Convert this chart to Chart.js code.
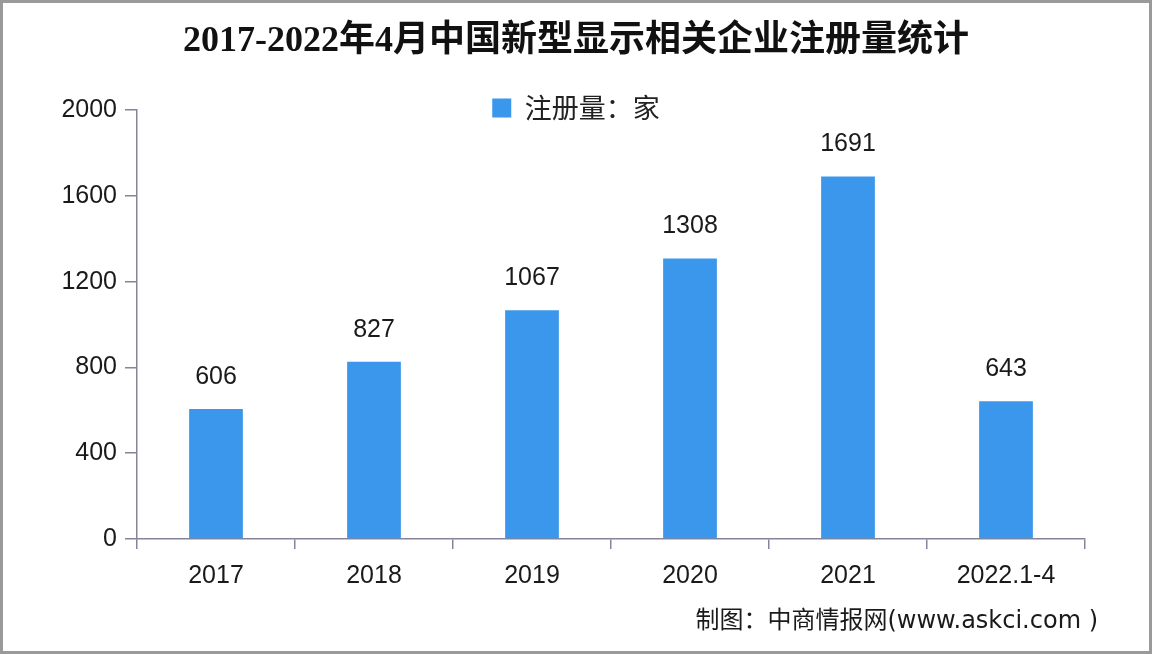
<!DOCTYPE html>
<html><head><meta charset="utf-8">
<script src="https://cdn.jsdelivr.net/npm/chart.js@4/dist/chart.umd.min.js"></script>
<style>html,body{margin:0;padding:0;background:#fff;}#wrap{width:1152px;height:654px;}</style>
</head><body><div id="wrap"><canvas id="c" width="1152" height="654"></canvas></div>
<script>
const categories = ['2017', '2018', '2019', '2020', '2021', '2022.1-4'];
const registrations = [606, 827, 1067, 1308, 1691, 643];
const yTicks = [0, 400, 800, 1200, 1600, 2000];
const titleText = '2017-2022年4月中国新型显示相关企业注册量统计';
const seriesName = '注册量：家';
const sourceText = '制图：中商情报网(www.askci.com )';

const axisColor = '#898399';
const barColor = '#3a97eb';
const textColor = '#1a1a1a';
const numFont = '"Liberation Sans", "Noto Sans CJK SC", sans-serif';

const layoutPlugin = {
  id: 'layoutTweak',
  afterLayout(chart) {
    const lg = chart.legend;
    if (!lg) return;
    const h = lg.height;
    lg.top = 108 - 13.5;
    lg.bottom = lg.top + h;
  }
};

const labelPlugin = {
  id: 'valueLabels',
  afterDatasetsDraw(chart) {
    const ctx = chart.ctx;
    const meta = chart.getDatasetMeta(0);
    ctx.save();
    ctx.font = '25px ' + numFont;
    ctx.fillStyle = textColor;
    ctx.textAlign = 'center';
    ctx.textBaseline = 'middle';
    meta.data.forEach((bar, i) => {
      ctx.fillText(String(registrations[i]), bar.x, bar.y - 32);
    });
    ctx.restore();
  },
  afterDraw(chart) {
    const ctx = chart.ctx;
    ctx.save();
    ctx.font = '24px "DejaVu Sans", "Noto Sans CJK SC", sans-serif';
    ctx.fillStyle = textColor;
    ctx.textAlign = 'right';
    ctx.textBaseline = 'middle';
    ctx.fillText(sourceText, 1098, 622);
    ctx.strokeStyle = '#9a9a9a';
    ctx.lineWidth = 3;
    ctx.strokeRect(1.5, 1.5, 1149, 651);
    ctx.restore();
  }
};

new Chart(document.getElementById('c'), {
  type: 'bar',
  data: {
    labels: categories,
    datasets: [{
      label: seriesName,
      data: registrations,
      backgroundColor: barColor,
      borderWidth: 0,
      categoryPercentage: 1,
      barPercentage: 0.34
    }]
  },
  options: {
    responsive: false,
    animation: false,
    devicePixelRatio: 1,
    layout: { padding: { left: 0, right: 0, top: 0, bottom: 0 } },
    plugins: {
      title: {
        display: true,
        text: titleText,
        color: '#111',
        font: { family: '"Liberation Serif", "Noto Sans CJK SC", serif', size: 36, weight: 'bold', lineHeight: 1.2 },
        padding: { top: 20, bottom: 10 }
      },
      legend: {
        display: true,
        position: 'top',
        align: 'center',
        labels: {
          boxWidth: 19,
          boxHeight: 19,
          padding: 0,
          color: '#222',
          font: { family: '"Noto Sans CJK SC", sans-serif', size: 27 }
        }
      },
      tooltip: { enabled: false }
    },
    scales: {
      x: {
        afterFit(scale) { scale.height = 115; },
        grid: { offset: true, drawOnChartArea: false, drawTicks: true, tickLength: 10, color: axisColor, lineWidth: 1.5 },
        border: { color: axisColor, width: 1.5 },
        ticks: { color: textColor, padding: 12, font: { family: numFont, size: 25 } }
      },
      y: {
        min: 0,
        max: 2000,
        afterFit(scale) { scale.width = 137; },
        afterBuildTicks(scale) { scale.ticks = yTicks.map(v => ({ value: v })); },
        grid: { drawOnChartArea: false, drawTicks: true, tickLength: 12, color: axisColor, lineWidth: 1.5 },
        border: { color: axisColor, width: 1.5 },
        ticks: { color: textColor, padding: 8, font: { family: numFont, size: 25 }, callback: (v) => String(v) }
      },
      ySpace: {
        type: 'linear',
        position: 'right',
        display: true,
        afterFit(scale) { scale.width = 67; },
        grid: { display: false, drawTicks: false },
        border: { display: false },
        ticks: { display: false }
      }
    }
  },
  plugins: [layoutPlugin, labelPlugin]
});
</script>
</body></html>
